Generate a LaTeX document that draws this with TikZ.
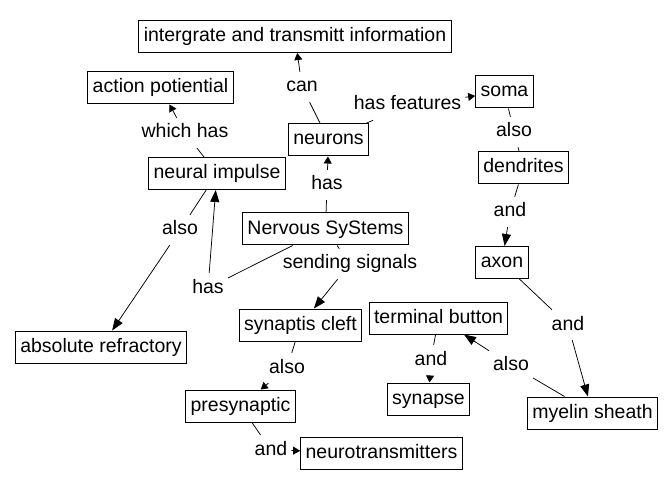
\documentclass[tikz,border=0pt]{standalone}
\usepackage{fontspec}
\setmainfont{Liberation Sans}
\usetikzlibrary{arrows.meta}

\begin{document}
\begin{tikzpicture}[x=1pt, y=-1pt,
    concept/.style={draw=black, line width=1pt, inner xsep=5pt, inner ysep=7pt, text height=14pt, text depth=4pt, font=\fontsize{19.5}{22}\selectfont},
    phrase/.style={inner xsep=4pt, inner ysep=6pt, text height=14pt, text depth=4pt, font=\fontsize{19.5}{22}\selectfont},
    link/.style={black, line width=0.75pt},
    bigtip/.style={link, -{Triangle[length=12pt,width=9pt]}},
    smalltip/.style={link, -{Triangle[length=7pt,width=8pt]}}]
    \useasboundingbox (0,0) rectangle (672,489);
    \node[concept] (integrate) at (295,36.5) {intergrate and transmitt information};
    \node[concept] (potential) at (160.5,88) {action potiential};
    \node[concept] (neurons) at (328.5,140) {neurons};
    \node[concept] (impulse) at (217,173.5) {neural impulse};
    \node[concept] (nervous) at (325.5,229) {Nervous SyStems};
    \node[concept] (soma) at (504.5,92) {soma};
    \node[concept] (dendrites) at (523.5,168) {dendrites};
    \node[concept] (axon) at (502,262.5) {axon};
    \node[concept] (cleft) at (300.5,325) {synaptis cleft};
    \node[concept] (terminal) at (438.5,318) {terminal button};
    \node[concept] (refractory) at (101,347) {absolute refractory};
    \node[concept] (synapse) at (428.5,399) {synapse};
    \node[concept] (myelin) at (592.5,413) {myelin sheath};
    \node[concept] (presynaptic) at (240.5,406) {presynaptic};
    \node[concept] (transmitters) at (381.5,453) {neurotransmitters};

    \node[phrase] (can) at (302,87) {can};
    \node[phrase] (whichhas) at (185,133) {which has};
    \node[phrase] (hasfeat) at (407.5,105) {has features};
    \node[phrase] (hasup) at (327,185) {has};
    \node[phrase] (alsosoma) at (514,132) {also};
    \node[phrase] (anddend) at (510,212) {and};
    \node[phrase] (alsoimp) at (180,230) {also};
    \node[phrase] (hasleft) at (208,288) {has};
    \node[phrase] (sending) at (350,264) {sending signals};
    \node[phrase] (andaxon) at (568,325) {and};
    \node[phrase] (alsomyel) at (511,365) {also};
    \node[phrase] (andterm) at (431,360) {and};
    \node[phrase] (alsocleft) at (287,368) {also};
    \node[phrase] (andpre) at (271,450) {and};

    \draw[link] (neurons) -- (can);
    \draw[smalltip] (can) -- (integrate);
    \draw[link] (impulse) -- (whichhas);
    \draw[smalltip] (whichhas) -- (potential);
    \draw[link] (neurons) -- (hasfeat);
    \draw[smalltip] (hasfeat) -- (soma);
    \draw[link] (nervous) -- (hasup);
    \draw[smalltip] (hasup) -- (neurons);
    \draw[link] (soma) -- (alsosoma);
    \draw[link] (alsosoma) -- (dendrites);
    \draw[link] (dendrites) -- (anddend);
    \draw[bigtip] (anddend) -- (axon);
    \draw[link] (impulse) -- (alsoimp);
    \draw[bigtip] (alsoimp) -- (refractory);
    \draw[link] (nervous) -- (hasleft);
    \draw[bigtip] (hasleft) -- (impulse);
    \draw[link] (nervous) -- (sending);
    \draw[bigtip] (sending) -- (cleft);
    \draw[link] (axon) -- (andaxon);
    \draw[bigtip] (andaxon) -- (myelin);
    \draw[link] (myelin) -- (alsomyel);
    \draw[bigtip] (alsomyel) -- (terminal);
    \draw[link] (terminal) -- (andterm);
    \draw[smalltip] (andterm) -- (synapse);
    \draw[link] (cleft) -- (alsocleft);
    \draw[smalltip] (alsocleft) -- (presynaptic);
    \draw[link] (presynaptic) -- (andpre);
    \draw[smalltip] (andpre) -- (transmitters);
\end{tikzpicture}
\end{document}
